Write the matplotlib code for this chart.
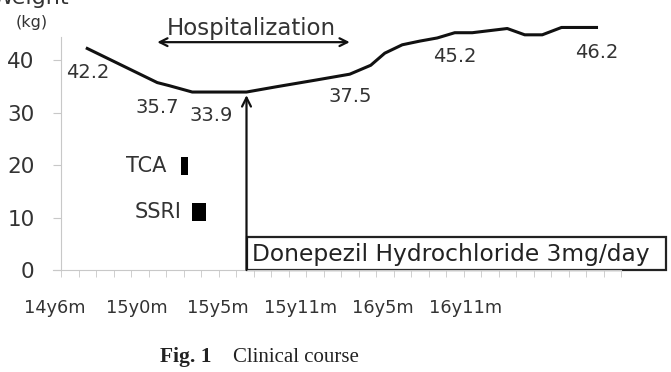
import numpy as np
import matplotlib.pyplot as plt

# month index from 14y6m (tick 0), weight in kg
months = [1.5, 5.5, 6.2, 7.5, 10.6, 12.3, 14.6, 16.5, 17.7, 18.5, 19.5, 20.5,
          21.5, 22.5, 23.5, 25.5, 26.5, 27.5, 28.6, 30.6]
weight = [42.2, 35.7, 35.1, 33.9, 33.9, 34.9, 36.2, 37.3, 39.0, 41.3, 42.9, 43.6,
          44.2, 45.2, 45.2, 46.0, 44.8, 44.8, 46.2, 46.2]

value_labels = ["42.2", "35.7", "33.9", "37.5", "45.2", "46.2"]
value_pos = [(1.55, 37.7), (5.5, 31.0), (8.6, 29.5), (16.5, 33.0), (22.5, 40.6), (30.6, 41.5)]

tick_labels = ["14y6m", "15y0m", "15y5m", "15y11m", "16y5m", "16y11m"]
tick_pos = [-0.35, 4.35, 8.95, 13.7, 18.4, 23.1]

hosp = (5.5, 16.5)
tca = (6.85, 7.25, 18.1, 21.5)
ssri = (7.5, 8.3, 9.3, 12.8)
donepezil_start = 10.6

fig = plt.figure(figsize=(6.71, 3.72), dpi=100)
ax = fig.add_axes([54 / 671, 0.2742, 612.5 / 671, 0.7056])

ax.plot(months, weight, color="#111111", lw=2.2, solid_joinstyle="round")

txt = "#333333"
for s, (x, y) in zip(value_labels, value_pos):
    ax.text(x, y, s, ha="center", va="center", fontsize=14, color=txt)

# hospitalization arrow
ax.annotate("", xy=(hosp[0], 43.4), xytext=(hosp[1], 43.4),
            arrowprops=dict(arrowstyle="<->", color="#111111", lw=1.6,
                            shrinkA=0, shrinkB=0, mutation_scale=14),
            annotation_clip=False)
ax.text((hosp[0] + hosp[1]) / 2 - 0.1, 43.9, "Hospitalization", ha="center", va="bottom",
        fontsize=16.5, color=txt)

# drugs
ax.fill_between([tca[0], tca[1]], tca[2], tca[3], color="black", lw=0)
ax.fill_between([ssri[0], ssri[1]], ssri[2], ssri[3], color="black", lw=0)
ax.text(tca[0] - 0.8, (tca[2] + tca[3]) / 2, "TCA", ha="right", va="center",
        fontsize=15, color=txt)
ax.text(ssri[0] - 0.6, (ssri[2] + ssri[3]) / 2, "SSRI", ha="right", va="center",
        fontsize=15, color=txt)

# donepezil box and arrow
ax.annotate("", xy=(donepezil_start, 33.3), xytext=(donepezil_start, 0),
            arrowprops=dict(arrowstyle="->", color="#111111", lw=1.6,
                            shrinkA=0, shrinkB=0, mutation_scale=16))
ax.add_patch(plt.Rectangle((donepezil_start, 0), 34.55 - donepezil_start, 6.3,
                           fill=False, ec="#222222", lw=1.6, clip_on=False))
ax.text(donepezil_start + 0.3, 3.0, "Donepezil Hydrochloride 3mg/day", ha="left",
        va="center", fontsize=16.8, color="#222222")

# axes styling
for sp in ["top", "right"]:
    ax.spines[sp].set_visible(False)
ax.spines["left"].set_color("#c8c8c8")
ax.spines["bottom"].set_color("#c8c8c8")
ax.spines["left"].set_position(("data", 0))

ax.set_yticks([0, 10, 20, 30, 40])
ax.tick_params(axis="y", colors="#c8c8c8", labelcolor=txt, labelsize=15.5, length=6, pad=13)
ax.set_xticks(tick_pos)
ax.set_xticklabels(tick_labels)
ax.tick_params(axis="x", which="major", length=0, labelsize=12.8, labelcolor=txt, pad=21)
ax.set_xticks(np.arange(0, 33), minor=True)
ax.tick_params(axis="x", which="minor", length=5, color="#c8c8c8", direction="out")

# limits after ticks so set_xticks cannot widen them
ax.set_xlim(-0.4, 34.6)
ax.set_ylim(0, 50)
ax.spines["left"].set_bounds(0, 44.3)
ax.spines["bottom"].set_bounds(-0.45, 32)

fig.text(30 / 671, 1 - 4 / 372, "Weight", ha="center", va="baseline", fontsize=16, color=txt)
fig.text(32 / 671, 1 - 23 / 372, "(kg)", ha="center", va="center", fontsize=11.5, color=txt)

fig.text(212 / 671, 0.04, "Fig. 1", ha="right", va="center", fontsize=15.5,
         family="Liberation Serif", weight="bold", color="#222222")
fig.text(233 / 671, 0.04, "Clinical course", ha="left", va="center", fontsize=15,
         family="Liberation Serif", color="#222222")

fig.savefig("out.png", dpi=100)
